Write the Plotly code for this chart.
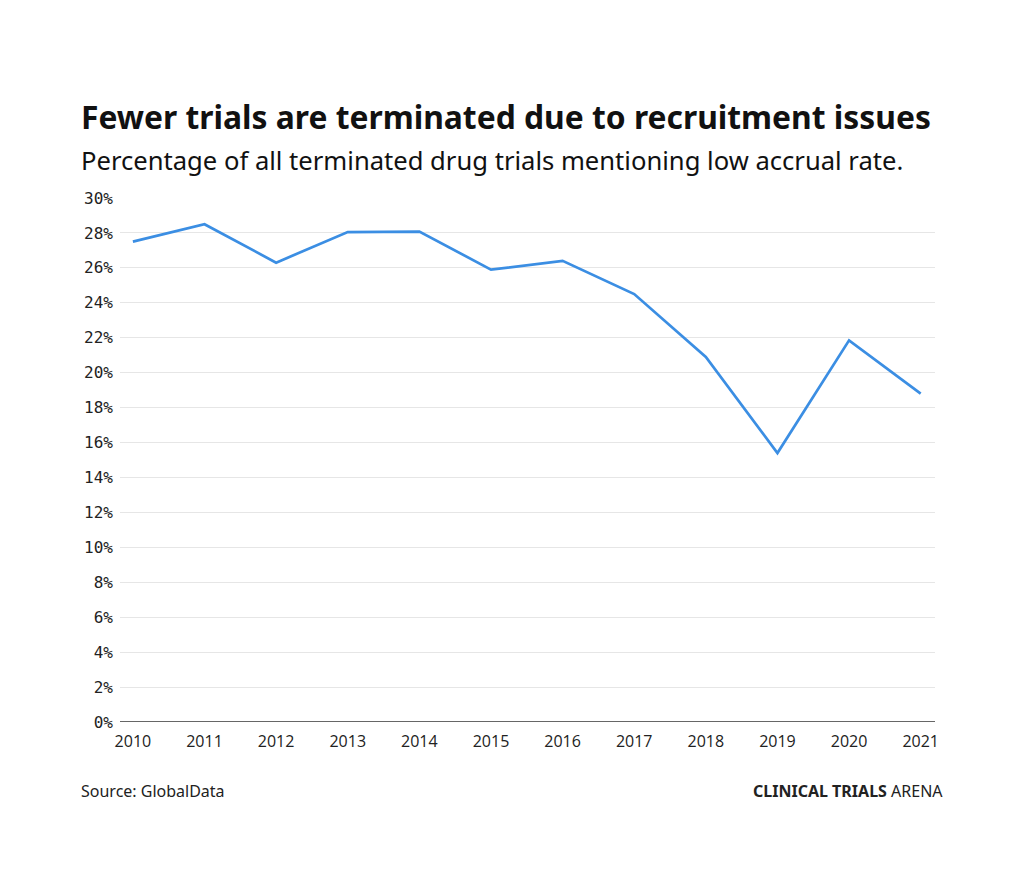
import plotly.graph_objects as go

years = [2010, 2011, 2012, 2013, 2014, 2015, 2016, 2017, 2018, 2019, 2020, 2021]
pct = [27.5, 28.5, 26.3, 28.05, 28.08, 25.9, 26.4, 24.5, 20.9, 15.4, 21.85, 18.8]
y_ticks = list(range(0, 31, 2))
y_labels = [f"{v}%" for v in y_ticks]

fig = go.Figure()
fig.add_trace(go.Scatter(
    x=years, y=pct, mode="lines",
    line=dict(color="#3b8ee3", width=2.7),
    hoverinfo="skip",
))

fig.update_layout(
    width=1024, height=891,
    paper_bgcolor="white", plot_bgcolor="white",
    margin=dict(l=112, r=97, t=190, b=177),
    showlegend=False,
    xaxis=dict(
        range=[2009.82, 2021.2],
        tickvals=years, ticktext=[str(y) for y in years],
        showgrid=False, zeroline=False, showline=False,
        ticks="", ticklen=0, ticklabelstandoff=8,
        tickfont=dict(family="Open Sans", size=16, color="#222222"),
    ),
    yaxis=dict(
        range=[0, 30],
        tickvals=y_ticks, ticktext=y_labels,
        showgrid=True, gridcolor="#e6e6e6", gridwidth=1,
        zeroline=False, showline=False,
        ticks="", ticklen=0, ticklabelstandoff=6,
        tickfont=dict(family="DejaVu Sans Mono", size=16, color="#222222"),
    ),
    shapes=[dict(type="line", xref="paper", yref="y", x0=0, x1=1, y0=0, y1=0,
                 line=dict(color="#333333", width=1.3))],
    annotations=[
        dict(text="<b>Fewer trials are terminated due to recruitment issues</b>",
             xref="paper", yref="paper", x=-0.05, y=1.155, xanchor="left", yanchor="middle",
             showarrow=False, font=dict(family="Noto Sans", size=31.8, color="#111111")),
        dict(text="Percentage of all terminated drug trials mentioning low accrual rate.",
             xref="paper", yref="paper", x=-0.05, y=1.072, xanchor="left", yanchor="middle",
             showarrow=False, font=dict(family="Noto Sans", size=25.6, color="#111111")),
        dict(text="Source: GlobalData",
             xref="paper", yref="paper", x=-0.05, y=-0.132, xanchor="left", yanchor="middle",
             showarrow=False, font=dict(family="Noto Sans", size=16, color="#222222")),
        dict(text="<b>CLINICAL TRIALS</b> ARENA",
             xref="paper", yref="paper", x=1.012, y=-0.132, xanchor="right", yanchor="middle",
             showarrow=False, font=dict(family="Noto Sans", size=16, color="#222222")),
    ],
)

fig.write_html("out.html")
